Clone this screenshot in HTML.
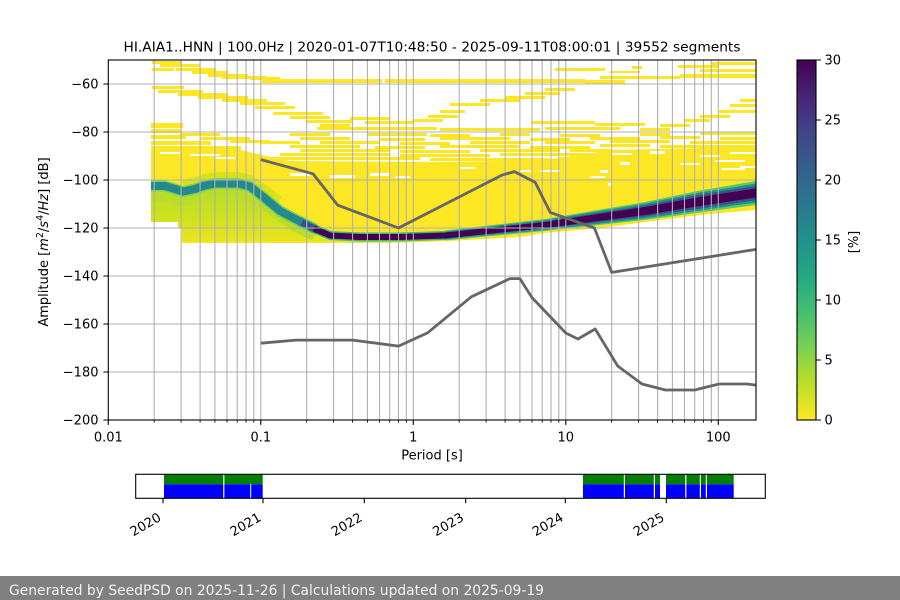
<!DOCTYPE html>
<html><head><meta charset="utf-8"><style>
html,body{margin:0;padding:0;background:#fff;width:900px;height:600px;overflow:hidden}
svg{display:block}
text{font-family:"DejaVu Sans","Liberation Sans",sans-serif;fill:#000}
</style></head><body>
<svg width="900" height="600" viewBox="0 0 900 600" xmlns="http://www.w3.org/2000/svg">
<defs>
<linearGradient id="vir" x1="0" y1="0" x2="0" y2="1">
<stop offset="0" stop-color="#440154"/><stop offset="0.1" stop-color="#482475"/><stop offset="0.2" stop-color="#414487"/><stop offset="0.3" stop-color="#355f8d"/><stop offset="0.4" stop-color="#2a788e"/><stop offset="0.5" stop-color="#21918c"/><stop offset="0.6" stop-color="#22a884"/><stop offset="0.7" stop-color="#44bf70"/><stop offset="0.8" stop-color="#7ad151"/><stop offset="0.9" stop-color="#bddf26"/><stop offset="1" stop-color="#fde725"/>
</linearGradient>
<linearGradient id="haze" gradientUnits="userSpaceOnUse" x1="0" y1="185" x2="0" y2="243">
<stop offset="0" stop-color="#b2dd2e"/><stop offset="0.5" stop-color="#cbe11e"/><stop offset="1" stop-color="#ebe51f"/>
</linearGradient>
</defs>
<rect width="900" height="600" fill="#fff"/>

<!-- dense yellow region -->
<polygon fill="#fde725" points="151,150 240,150 262,155 290,161 445,162 545,160 612,150 700,148 756,147 756,210 700,215 645,222 600,228 545,233 520,237 450,241 390,243 182,243 182,228 178,228 178,222 151,222"/>

<!-- sparse streaks -->
<g fill="#fde725">
<rect x="152" y="61" width="30" height="3"/><rect x="160" y="64" width="40" height="3"/><rect x="152" y="68" width="22" height="3"/><rect x="176" y="68" width="40" height="3"/><rect x="192" y="71" width="36" height="3"/><rect x="208" y="74" width="40" height="3"/><rect x="222" y="76" width="45" height="3"/><rect x="250" y="77" width="30" height="3"/>
<rect x="262" y="79" width="120" height="4"/><rect x="385" y="79" width="200" height="4"/><rect x="585" y="80" width="40" height="4"/><rect x="600" y="76" width="80" height="3"/><rect x="680" y="74" width="76" height="4"/><rect x="555" y="68" width="50" height="3"/><rect x="632" y="66" width="10" height="3"/><rect x="678" y="65" width="40" height="3"/><rect x="712" y="62" width="44" height="3"/><rect x="700" y="69" width="56" height="3"/><rect x="610" y="71" width="30" height="2"/>
<rect x="152" y="86" width="32" height="3"/><rect x="158" y="90" width="45" height="3"/><rect x="178" y="93" width="50" height="3"/><rect x="198" y="96" width="50" height="3"/><rect x="222" y="99" width="45" height="3"/><rect x="240" y="102" width="45" height="3"/><rect x="255" y="106" width="40" height="3"/><rect x="273" y="112" width="50" height="3"/><rect x="290" y="116" width="40" height="3"/><rect x="307" y="120" width="45" height="3"/><rect x="320" y="124" width="30" height="3"/><rect x="350" y="117" width="40" height="3"/><rect x="365" y="121" width="48" height="3"/>
<rect x="413" y="119" width="30" height="3"/><rect x="428" y="115" width="30" height="3"/><rect x="440" y="110" width="25" height="3"/><rect x="450" y="103" width="40" height="3"/><rect x="480" y="99" width="40" height="3"/><rect x="505" y="96" width="40" height="3"/><rect x="525" y="92" width="35" height="3"/><rect x="545" y="88" width="30" height="3"/>
<rect x="151" y="123" width="32" height="5"/><rect x="151" y="129" width="30" height="4"/><rect x="151" y="135" width="35" height="4"/><rect x="180" y="133" width="40" height="3"/><rect x="200" y="137" width="50" height="3"/><rect x="230" y="140" width="40" height="3"/><rect x="151" y="141" width="60" height="4"/><rect x="151" y="146" width="90" height="4"/>
<rect x="317" y="127" width="120" height="3"/><rect x="440" y="128" width="100" height="3"/><rect x="545" y="127" width="75" height="3"/><rect x="532" y="121" width="63" height="3"/><rect x="595" y="123" width="50" height="3"/><rect x="640" y="128" width="30" height="3"/><rect x="660" y="124" width="30" height="3"/><rect x="685" y="119" width="25" height="3"/><rect x="700" y="115" width="30" height="3"/><rect x="718" y="110" width="38" height="3"/><rect x="730" y="104" width="26" height="3"/><rect x="740" y="99" width="16" height="3"/>
<rect x="290" y="133" width="40" height="3"/><rect x="367" y="133" width="60" height="3"/><rect x="430" y="134" width="40" height="3"/><rect x="500" y="133" width="30" height="3"/><rect x="560" y="134" width="40" height="3"/><rect x="640" y="133" width="30" height="3"/><rect x="700" y="132" width="56" height="3"/>
<rect x="300" y="137" width="50" height="3"/><rect x="380" y="138" width="45" height="3"/><rect x="440" y="137" width="70" height="3"/><rect x="530" y="138" width="40" height="3"/><rect x="590" y="137" width="50" height="3"/><rect x="660" y="136" width="40" height="3"/><rect x="720" y="137" width="36" height="3"/>
<rect x="260" y="141" width="40" height="3"/><rect x="320" y="141" width="60" height="3"/><rect x="400" y="142" width="50" height="3"/><rect x="470" y="141" width="60" height="3"/><rect x="545" y="141" width="50" height="3"/><rect x="610" y="140" width="60" height="3"/><rect x="690" y="141" width="66" height="3"/>
<rect x="290" y="145" width="70" height="3"/><rect x="375" y="146" width="50" height="3"/><rect x="440" y="145" width="80" height="3"/><rect x="530" y="146" width="60" height="3"/><rect x="600" y="144" width="50" height="3"/><rect x="660" y="145" width="96" height="3"/>
<rect x="300" y="149" width="90" height="3"/><rect x="400" y="150" width="70" height="3"/><rect x="480" y="149" width="80" height="3"/><rect x="570" y="149" width="42" height="3"/>
<rect x="280" y="153" width="110" height="3"/><rect x="400" y="154" width="90" height="3"/><rect x="500" y="153" width="112" height="3"/>
<rect x="270" y="157" width="150" height="3"/><rect x="430" y="158" width="120" height="3"/><rect x="560" y="157" width="52" height="3"/>
</g>
<!-- holes -->
<g fill="#fff">
<rect x="160" y="152" width="20" height="2"/><rect x="190" y="154" width="30" height="2"/><rect x="215" y="157" width="20" height="2"/>
<rect x="290" y="173" width="20" height="3"/><rect x="330" y="175" width="25" height="3"/><rect x="370" y="173" width="20" height="3"/><rect x="395" y="176" width="15" height="2"/><rect x="460" y="167" width="15" height="2"/><rect x="520" y="170" width="12" height="2"/>
<rect x="612" y="153" width="20" height="2"/><rect x="650" y="151" width="15" height="3"/><rect x="700" y="155" width="20" height="2"/><rect x="730" y="152" width="26" height="2"/><rect x="715" y="160" width="30" height="2"/><rect x="740" y="166" width="16" height="2"/><rect x="680" y="163" width="20" height="2"/><rect x="620" y="162" width="10" height="3"/><rect x="600" y="170" width="8" height="3"/><rect x="540" y="170" width="20" height="2"/><rect x="590" y="176" width="15" height="2"/><rect x="722" y="168" width="23" height="2"/><rect x="608" y="183" width="4" height="3"/>
</g>

<!-- haze on left -->
<polygon fill="url(#haze)" points="151,191 165,191 175,194 183,196 195,193 205,190 215,187 238,187 250,190 262,198 280,211 300,224 320,233 345,238 380,240 380,242 330,242 182,242 182,228 178,228 178,222 151,222"/>
<polyline fill="none" stroke="#d6e31a" stroke-width="8" stroke-linejoin="round" points="183,184 195,181 205,178 215,176 238,176 250,179 262,187 280,200"/>
<polyline fill="none" stroke="#b8de29" stroke-width="14" stroke-linejoin="round" points="151,194 165,194 175,197 183,198.5 195,196 205,192.5 215,190 238,190 250,193 262,201 280,214 300,227 315,234"/>
<polyline fill="none" stroke="#7ad151" stroke-width="11" stroke-linejoin="round" points="151,186 165,186 175,189 183,191.5 195,189 205,185.5 215,183.5 238,183.5 250,186.5 262,196 280,211 300,221.5 315,229"/>
<polyline fill="none" stroke="#3aba76" stroke-width="9" stroke-linejoin="round" points="300,221.5 315,229 330,235.5 360,237 400,237 445,235.5 545,225"/>
<polyline fill="none" stroke="#23898e" stroke-width="8" stroke-linejoin="round" points="151,186 165,186 175,189 183,191.5 195,189 205,185.5 215,183.5 238,183.5 250,186.5 262,196 280,211 300,221.5 318,230.5"/>
<polyline fill="none" stroke="#3e4989" stroke-width="6" points="302,222.5 315,229 325,233.5"/>
<polyline fill="none" stroke="#440154" stroke-width="6" stroke-linejoin="round" points="314,228.5 330,235.5 360,237 400,237 445,235.5 545,225 595,218 645,211 700,201.5 756,193.5"/>
<!-- right band -->
<polygon fill="#5ec962" points="445,230.5 545,219 645,202 700,190.5 756,181 756,205 700,212.5 645,220 545,231 445,240.5"/>
<polygon fill="#21918c" points="445,231.5 545,220 645,203.5 700,192.5 756,183.5 756,202.5 700,210.5 645,218.5 545,230 445,239.5"/>
<polygon fill="#3b528b" points="480,229 545,221.5 645,205.5 700,194.5 756,186 756,200 700,208.5 645,216.5 545,228.5 480,234.5"/>
<polygon fill="#440154" points="445,232.5 545,222 645,207 700,197 756,188.5 756,197.5 700,206 645,215 545,228 445,238.5"/>

<!-- grid -->
<path fill="none" stroke="#b0b0b0" stroke-width="1.1" d="M154.2 60V420M181.1 60V420M200.1 60V420M214.9 60V420M227 60V420M237.2 60V420M246 60V420M253.8 60V420M260.8 60V420M306.7 60V420M333.6 60V420M352.6 60V420M367.4 60V420M379.5 60V420M389.7 60V420M398.5 60V420M406.3 60V420M413.3 60V420M459.2 60V420M486.1 60V420M505.1 60V420M519.9 60V420M532 60V420M542.2 60V420M551 60V420M558.8 60V420M565.8 60V420M611.7 60V420M638.6 60V420M657.6 60V420M672.4 60V420M684.5 60V420M694.7 60V420M703.5 60V420M711.3 60V420M718.3 60V420M108.3 84H756M108.3 132H756M108.3 180H756M108.3 228H756M108.3 276H756M108.3 324H756M108.3 372H756"/>

<!-- noise models -->
<polyline fill="none" stroke="#666" stroke-width="2.8" stroke-linejoin="round" points="260.8,159.6 313,173.8 337.8,205.2 398.5,228 501.7,175.2 514.4,171.6 535.2,182.4 550.2,212.4 594.4,228 611.7,272.4 756,249.4"/>
<polyline fill="none" stroke="#666" stroke-width="2.8" stroke-linejoin="round" points="260.8,343.2 295.9,340.1 352.6,340.1 398.5,346.1 427.5,332.9 471.3,296.8 509.9,278.6 519.9,278.6 532,297.6 565.8,333 577.9,339 595.2,329 617.7,366 642,384 665.4,390 694.7,390 719,384 746.9,384 756,385.1"/>

<!-- frame and ticks -->
<rect x="108.3" y="60" width="647.7" height="360" fill="none" stroke="#000" stroke-width="1.1"/>
<path fill="none" stroke="#000" stroke-width="1.1" d="M103.4 84h4.9M103.4 132h4.9M103.4 180h4.9M103.4 228h4.9M103.4 276h4.9M103.4 324h4.9M103.4 372h4.9M103.4 420h4.9M108.3 420v4.9M260.8 420v4.9M413.3 420v4.9M565.8 420v4.9M718.3 420v4.9"/>
<path fill="none" stroke="#000" stroke-width="0.8" d="M154.2 420v2.8M181.1 420v2.8M200.1 420v2.8M214.9 420v2.8M227 420v2.8M237.2 420v2.8M246 420v2.8M253.8 420v2.8M306.7 420v2.8M333.6 420v2.8M352.6 420v2.8M367.4 420v2.8M379.5 420v2.8M389.7 420v2.8M398.5 420v2.8M406.3 420v2.8M459.2 420v2.8M486.1 420v2.8M505.1 420v2.8M519.9 420v2.8M532 420v2.8M542.2 420v2.8M551 420v2.8M558.8 420v2.8M611.7 420v2.8M638.6 420v2.8M657.6 420v2.8M672.4 420v2.8M684.5 420v2.8M694.7 420v2.8M703.5 420v2.8M711.3 420v2.8"/>
<g font-size="13" text-anchor="end">
<text x="98.5" y="88.7">−60</text><text x="98.5" y="136.7">−80</text><text x="98.5" y="184.7">−100</text><text x="98.5" y="232.7">−120</text><text x="98.5" y="280.7">−140</text><text x="98.5" y="328.7">−160</text><text x="98.5" y="376.7">−180</text><text x="98.5" y="424.7">−200</text>
</g>
<g font-size="13" text-anchor="middle">
<text x="108.3" y="441.5">0.01</text><text x="260.8" y="441.5">0.1</text><text x="413.3" y="441.5">1</text><text x="565.8" y="441.5">10</text><text x="718.3" y="441.5">100</text>
<text x="432" y="459.5">Period [s]</text>
<text x="432" y="51.5" textLength="617" lengthAdjust="spacingAndGlyphs">HI.AIA1..HNN | 100.0Hz | 2020-01-07T10:48:50 - 2025-09-11T08:00:01 | 39552 segments</text>
</g>
<text font-size="13" text-anchor="middle" transform="rotate(-90)" x="-242" y="47.8">Amplitude [<tspan font-style="italic">m</tspan><tspan font-size="9.5" dy="-5">2</tspan><tspan dy="5">/</tspan><tspan font-style="italic">s</tspan><tspan font-size="9.5" dy="-5">4</tspan><tspan dy="5">/</tspan><tspan font-style="italic">Hz</tspan>] [dB]</text>

<!-- colorbar -->
<rect x="797" y="60" width="19" height="360" fill="url(#vir)" stroke="#000" stroke-width="1.1"/>
<path fill="none" stroke="#000" stroke-width="1.1" d="M816 60h4.9M816 120h4.9M816 180h4.9M816 240h4.9M816 300h4.9M816 360h4.9M816 420h4.9"/>
<g font-size="13">
<text x="824.5" y="64.7">30</text><text x="824.5" y="124.7">25</text><text x="824.5" y="184.7">20</text><text x="824.5" y="244.7">15</text><text x="824.5" y="304.7">10</text><text x="824.5" y="364.7">5</text><text x="824.5" y="424.7">0</text>
</g>
<text font-size="13" text-anchor="middle" transform="rotate(-90)" x="-242" y="858">[%]</text>

<!-- timeline -->
<rect x="164" y="474.3" width="98.7" height="10" fill="#008000"/>
<rect x="164" y="484.3" width="98.7" height="14" fill="#0000ff"/>
<rect x="583" y="474.3" width="150.7" height="10" fill="#008000"/>
<rect x="583" y="484.3" width="150.7" height="14" fill="#0000ff"/>
<g fill="#fff">
<rect x="223.2" y="474.3" width="1.2" height="24"/><rect x="250.2" y="484.3" width="1" height="14"/>
<rect x="623.8" y="474.3" width="1.2" height="24"/><rect x="653.8" y="474.3" width="1.2" height="24"/><rect x="660" y="474.3" width="6" height="24"/><rect x="685.2" y="474.3" width="1.2" height="24"/><rect x="699.8" y="474.3" width="1.2" height="24"/><rect x="705.8" y="474.3" width="1.2" height="24"/>
</g>
<rect x="135.7" y="474.3" width="629.6" height="24" fill="none" stroke="#000" stroke-width="1.1"/>
<path fill="none" stroke="#000" stroke-width="1.1" d="M163 498.3v4.9M263 498.3v4.9M364.3 498.3v4.9M465.7 498.3v4.9M565.3 498.3v4.9M666.3 498.3v4.9"/>
<g font-size="13" text-anchor="end">
<text x="162" y="520" transform="rotate(-30 162 520)">2020</text>
<text x="262" y="520" transform="rotate(-30 262 520)">2021</text>
<text x="363.3" y="520" transform="rotate(-30 363.3 520)">2022</text>
<text x="464.7" y="520" transform="rotate(-30 464.7 520)">2023</text>
<text x="564.3" y="520" transform="rotate(-30 564.3 520)">2024</text>
<text x="665.3" y="520" transform="rotate(-30 665.3 520)">2025</text>
</g>

<!-- footer -->
<rect x="0" y="576" width="900" height="24" fill="#808080"/>
<text x="9" y="595" font-size="14" style="fill:#f2f2f2" textLength="535" lengthAdjust="spacingAndGlyphs">Generated by SeedPSD on 2025-11-26 | Calculations updated on 2025-09-19</text>
</svg>
</body></html>
